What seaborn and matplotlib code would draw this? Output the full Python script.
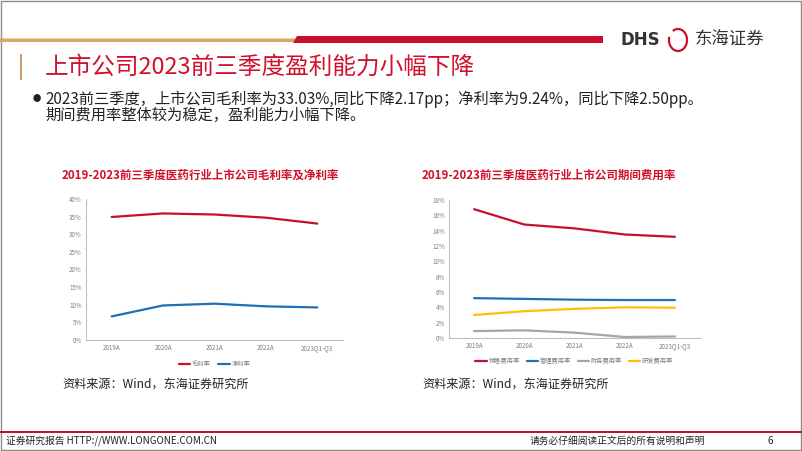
import numpy as np
import pandas as pd
import matplotlib
matplotlib.use("Agg")
import matplotlib.pyplot as plt
from matplotlib.patches import Polygon, Rectangle, Arc
import seaborn as sns

# 数据
years = ["2019A", "2020A", "2021A", "2022A", "2023Q1-Q3"]
gross_margin = [34.9, 35.9, 35.6, 34.7, 33.03]
net_margin = [6.7, 9.8, 10.3, 9.55, 9.24]

sales_rate = [16.8, 14.8, 14.3, 13.5, 13.2]
admin_rate = [5.2, 5.1, 5.0, 4.95, 4.95]
finance_rate = [0.9, 1.0, 0.7, 0.13, 0.2]
rd_rate = [3.0, 3.5, 3.8, 4.0, 3.95]

left_ticks = [0, 5, 10, 15, 20, 25, 30, 35, 40]
right_ticks = [0, 2, 4, 6, 8, 10, 12, 14, 16, 18]

RED = "#C8102E"
BLUE = "#1F6FB5"
GRAY = "#A6A6A6"
YELLOW = "#FFC000"
TITLE_RED = "#D0112B"

sns.set_style("white")
plt.rcParams["font.family"] = ["Noto Sans CJK SC", "DejaVu Sans"]
plt.rcParams["axes.unicode_minus"] = False

W, H = 802, 451
fig = plt.figure(figsize=(W / 100, H / 100), dpi=100)

# 背景装饰层（像素坐标）
bg = fig.add_axes([0, 0, 1, 1])
bg.set_xlim(0, W)
bg.set_ylim(H, 0)
bg.axis("off")

bg.add_patch(Rectangle((0.5, 0.5), W - 1.5, H - 1.5, fill=False, ec="#8C8C8C", lw=1))
bg.add_patch(Polygon([[0, 38.5], [300, 38.5], [298, 42], [0, 42]], closed=True, fc="#D9A866", ec="none"))
bg.add_patch(Polygon([[297, 36], [603, 36], [603, 43], [293, 43]], closed=True, fc="#C8102E", ec="none"))
bg.text(620, 40, "DHS", fontsize=12, fontweight="bold", color="#333333", va="center", ha="left",
        family=["DejaVu Sans"])
bg.add_patch(Arc((678, 40), 18, 22, theta1=-120, theta2=200, color=RED, lw=1.6))
bg.text(695, 40, "东海证券", fontsize=12.5, color="#333333", va="center", ha="left")

# 标题
bg.add_patch(Rectangle((20, 54), 2, 26, fc="#C8A070", ec="none"))
bg.text(45, 67, "上市公司2023前三季度盈利能力小幅下降", fontsize=17, color=TITLE_RED,
        va="center", ha="left", fontweight="medium")
bg.text(33, 99, "●", fontsize=6, color="#222222", va="center", ha="left")
bg.text(45, 99, "2023前三季度，上市公司毛利率为33.03%,同比下降2.17pp；净利率为9.24%，同比下降2.50pp。",
        fontsize=11, color="#222222", va="center", ha="left")
bg.text(45, 115, "期间费用率整体较为稳定，盈利能力小幅下降。", fontsize=11, color="#222222",
        va="center", ha="left")

# 图表标题
bg.text(200, 175, "2019-2023前三季度医药行业上市公司毛利率及净利率", fontsize=8.3, color=TITLE_RED,
        fontweight="bold", va="center", ha="center")
bg.text(549, 175, "2019-2023前三季度医药行业上市公司期间费用率", fontsize=8.3, color=TITLE_RED,
        fontweight="bold", va="center", ha="center")

# 资料来源
bg.text(62, 384, "资料来源：Wind，东海证券研究所", fontsize=8.7, color="#222222", va="center", ha="left")
bg.text(422, 384, "资料来源：Wind，东海证券研究所", fontsize=8.7, color="#222222", va="center", ha="left")

# 页脚
bg.add_patch(Rectangle((0, 431), W, 2, fc="#C8102E", ec="none"))
bg.text(6, 441, "证券研究报告 HTTP://WWW.LONGONE.COM.CN", fontsize=7, color="#222222", va="center", ha="left")
bg.text(530, 441, "请务必仔细阅读正文后的所有说明和声明", fontsize=7, color="#222222", va="center", ha="left")
bg.text(770, 441, "6", fontsize=7, color="#222222", va="center", ha="center")


def style_axes(ax, ticks):
    ax.set_xlim(-0.5, len(years) - 0.5)
    ax.set_ylim(ticks[0], ticks[-1])
    ax.set_yticks(ticks)
    ax.set_yticklabels([f"{t}%" for t in ticks])
    ax.set_xticks(range(len(years)))
    ax.set_xticklabels(years)
    ax.tick_params(axis="both", labelsize=4.5, colors="#7F7F7F", length=0, pad=3)
    for s in ["top", "right"]:
        ax.spines[s].set_visible(False)
    for s in ["left", "bottom"]:
        ax.spines[s].set_color("#BFBFBF")
        ax.spines[s].set_linewidth(0.8)
    ax.set_xlabel("")
    ax.set_ylabel("")
    ax.grid(False)


# 左图：毛利率及净利率
ax1 = fig.add_axes([86 / W, 1 - 340 / H, 257 / W, 141 / H])
df1 = pd.DataFrame({
    "x": list(range(len(years))) * 2,
    "value": gross_margin + net_margin,
    "series": ["毛利率"] * len(years) + ["净利率"] * len(years),
})
sns.lineplot(data=df1, x="x", y="value", hue="series", palette=[RED, BLUE], lw=1.6, ax=ax1, legend=False)
style_axes(ax1, left_ticks)
h1 = [plt.Line2D([], [], color=c, lw=1.6) for c in [RED, BLUE]]
ax1.legend(h1, ["毛利率", "净利率"], loc="upper center", bbox_to_anchor=(0.5, -0.1), ncol=2,
           frameon=False, fontsize=4.5, labelcolor="#7F7F7F", handlelength=1.8, handletextpad=0.3,
           columnspacing=1.2)

# 右图：期间费用率
ax2 = fig.add_axes([449 / W, 1 - 338 / H, 251 / W, 138 / H])
names = ["销售费用率", "管理费用率", "财务费用率", "研发费用率"]
vals = [sales_rate, admin_rate, finance_rate, rd_rate]
df2 = pd.DataFrame({
    "x": list(range(len(years))) * len(names),
    "value": sum(vals, []),
    "series": sum([[n] * len(years) for n in names], []),
})
colors2 = [RED, BLUE, GRAY, YELLOW]
sns.lineplot(data=df2, x="x", y="value", hue="series", palette=colors2, lw=1.6, ax=ax2, legend=False)
style_axes(ax2, right_ticks)
h2 = [plt.Line2D([], [], color=c, lw=1.6) for c in colors2]
ax2.legend(h2, names, loc="upper center", bbox_to_anchor=(0.5, -0.1), ncol=4,
           frameon=False, fontsize=4.5, labelcolor="#7F7F7F", handlelength=1.8, handletextpad=0.3,
           columnspacing=1.1)

fig.savefig("out.png", dpi=100)
